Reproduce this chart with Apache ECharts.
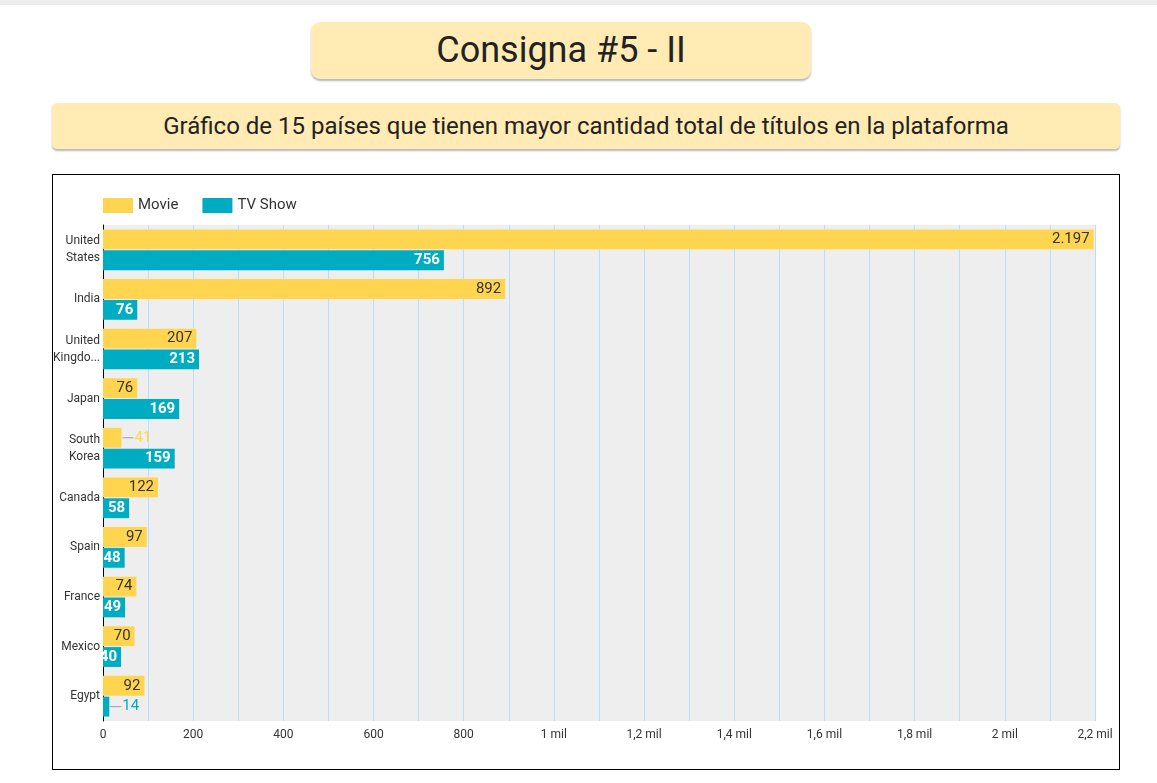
<!DOCTYPE html>
<html>
<head>
<meta charset="utf-8">
<script src="https://cdn.jsdelivr.net/npm/echarts@6/dist/echarts.min.js"></script>
<style>
  html, body { margin: 0; padding: 0; background: #fff; font-family: Roboto, "Noto Sans", sans-serif; }
  body { width: 1157px; height: 783px; position: relative; overflow: hidden; }
  .topbar { position: absolute; left: 0; top: 0; width: 1157px; height: 5px; background: #ececec; }
  .title { position: absolute; left: 311px; top: 22px; width: 500px; height: 57px; background: #ffebb3;
           border-radius: 9px; box-shadow: 0 2px 2px rgba(0,0,0,0.28); color: #222; font-size: 36px;
           line-height: 57px; text-align: center; }
  .subtitle { position: absolute; left: 52px; top: 103px; width: 1068px; height: 46px; background: #ffebb3;
           border-radius: 5px; box-shadow: 0 2px 2px rgba(0,0,0,0.28); color: #222; font-size: 24px;
           line-height: 46px; text-align: center; }
  .box { position: absolute; left: 52px; top: 174px; width: 1066px; height: 594px; border: 1px solid #000; }
  #chart { width: 1066px; height: 594px; }
</style>
</head>
<body>
<div class="topbar"></div>
<div class="title">Consigna #5 - II</div>
<div class="subtitle">Gráfico de 15 países que tienen mayor cantidad total de títulos en la plataforma</div>
<div class="box"><div id="chart"></div></div>
<script>
const categories = ['United States', 'India', 'United Kingdom', 'Japan', 'South Korea', 'Canada', 'Spain', 'France', 'Mexico', 'Egypt'];
const categoryLabels = ['United\nStates', 'India', 'United\nKingdo...', 'Japan', 'South\nKorea', 'Canada', 'Spain', 'France', 'Mexico', 'Egypt'];
const movieValues = [2197, 892, 207, 76, 41, 122, 97, 74, 70, 92];
const tvValues = [756, 76, 213, 169, 159, 58, 48, 49, 40, 14];
const seriesNames = ['Movie', 'TV Show'];
const colors = ['#ffd54f', '#00acc1'];

function fmtNum(v) {
  return String(v).replace(/\B(?=(\d{3})+(?!\d))/g, '.');
}
function fmtAxis(v) {
  if (v >= 1000) return String(v / 1000).replace('.', ',') + ' mil';
  return String(v);
}
function outsideLabel(color) {
  return {
    position: 'right', distance: 1,
    formatter: function (p) { return '{ln|}{v|' + fmtNum(p.value) + '}'; },
    rich: {
      ln: { width: 11, height: 1, backgroundColor: '#9e9e9e' },
      v: { color: color, fontSize: 15, fontWeight: 'normal', fontFamily: 'Roboto', padding: [0, 0, 0, 1] }
    }
  };
}
function buildData(values, threshold, color) {
  return values.map(function (v) {
    return v < threshold ? { value: v, label: outsideLabel(color) } : v;
  });
}

const chart = echarts.init(document.getElementById('chart'));
chart.setOption({
  animation: false,
  textStyle: { fontFamily: 'Roboto' },
  color: colors,
  legend: {
    left: 45, top: 18, itemWidth: 30, itemHeight: 15, itemGap: 24,
    icon: 'rect',
    textStyle: { fontSize: 15, color: '#333', fontFamily: 'Roboto' },
    data: seriesNames
  },
  grid: {
    left: 50, top: 50, right: 24, bottom: 48, containLabel: false, outerBoundsMode: 'none',
    show: true, backgroundColor: '#eeeeee', borderWidth: 0
  },
  xAxis: {
    type: 'value', min: 0, max: 2200, interval: 200,
    axisLine: { show: false }, axisTick: { show: false },
    axisLabel: { formatter: fmtAxis, fontSize: 12, color: '#333', margin: 8, fontFamily: 'Roboto' },
    splitLine: { show: true, lineStyle: { color: '#bbdefb', width: 1 } },
    minorTick: { show: false, splitNumber: 2 },
    minorSplitLine: { show: true, lineStyle: { color: '#bbdefb', width: 1 } }
  },
  yAxis: {
    type: 'category', inverse: true, data: categories,
    axisLine: { show: true, lineStyle: { color: '#000', width: 1 } },
    axisTick: { show: false },
    axisLabel: {
      fontSize: 12, color: '#333', margin: 3, lineHeight: 17, fontFamily: 'Roboto',
      formatter: function (v, i) { return categoryLabels[i]; }
    },
    splitLine: { show: false }
  },
  series: [
    {
      name: seriesNames[0], type: 'bar', barCategoryGap: '18%', barGap: '5%',
      data: buildData(movieValues, 45, colors[0]),
      label: {
        show: true, position: 'insideRight', distance: 4, color: '#333', fontSize: 15,
        fontFamily: 'Roboto', formatter: function (p) { return fmtNum(p.value); }
      }
    },
    {
      name: seriesNames[1], type: 'bar', barCategoryGap: '18%', barGap: '5%',
      data: buildData(tvValues, 30, colors[1]),
      label: {
        show: true, position: 'insideRight', distance: 4, color: '#fff', fontSize: 15, fontWeight: 'bold',
        fontFamily: 'Roboto', formatter: function (p) { return fmtNum(p.value); }
      }
    }
  ]
});
</script>
</body>
</html>
